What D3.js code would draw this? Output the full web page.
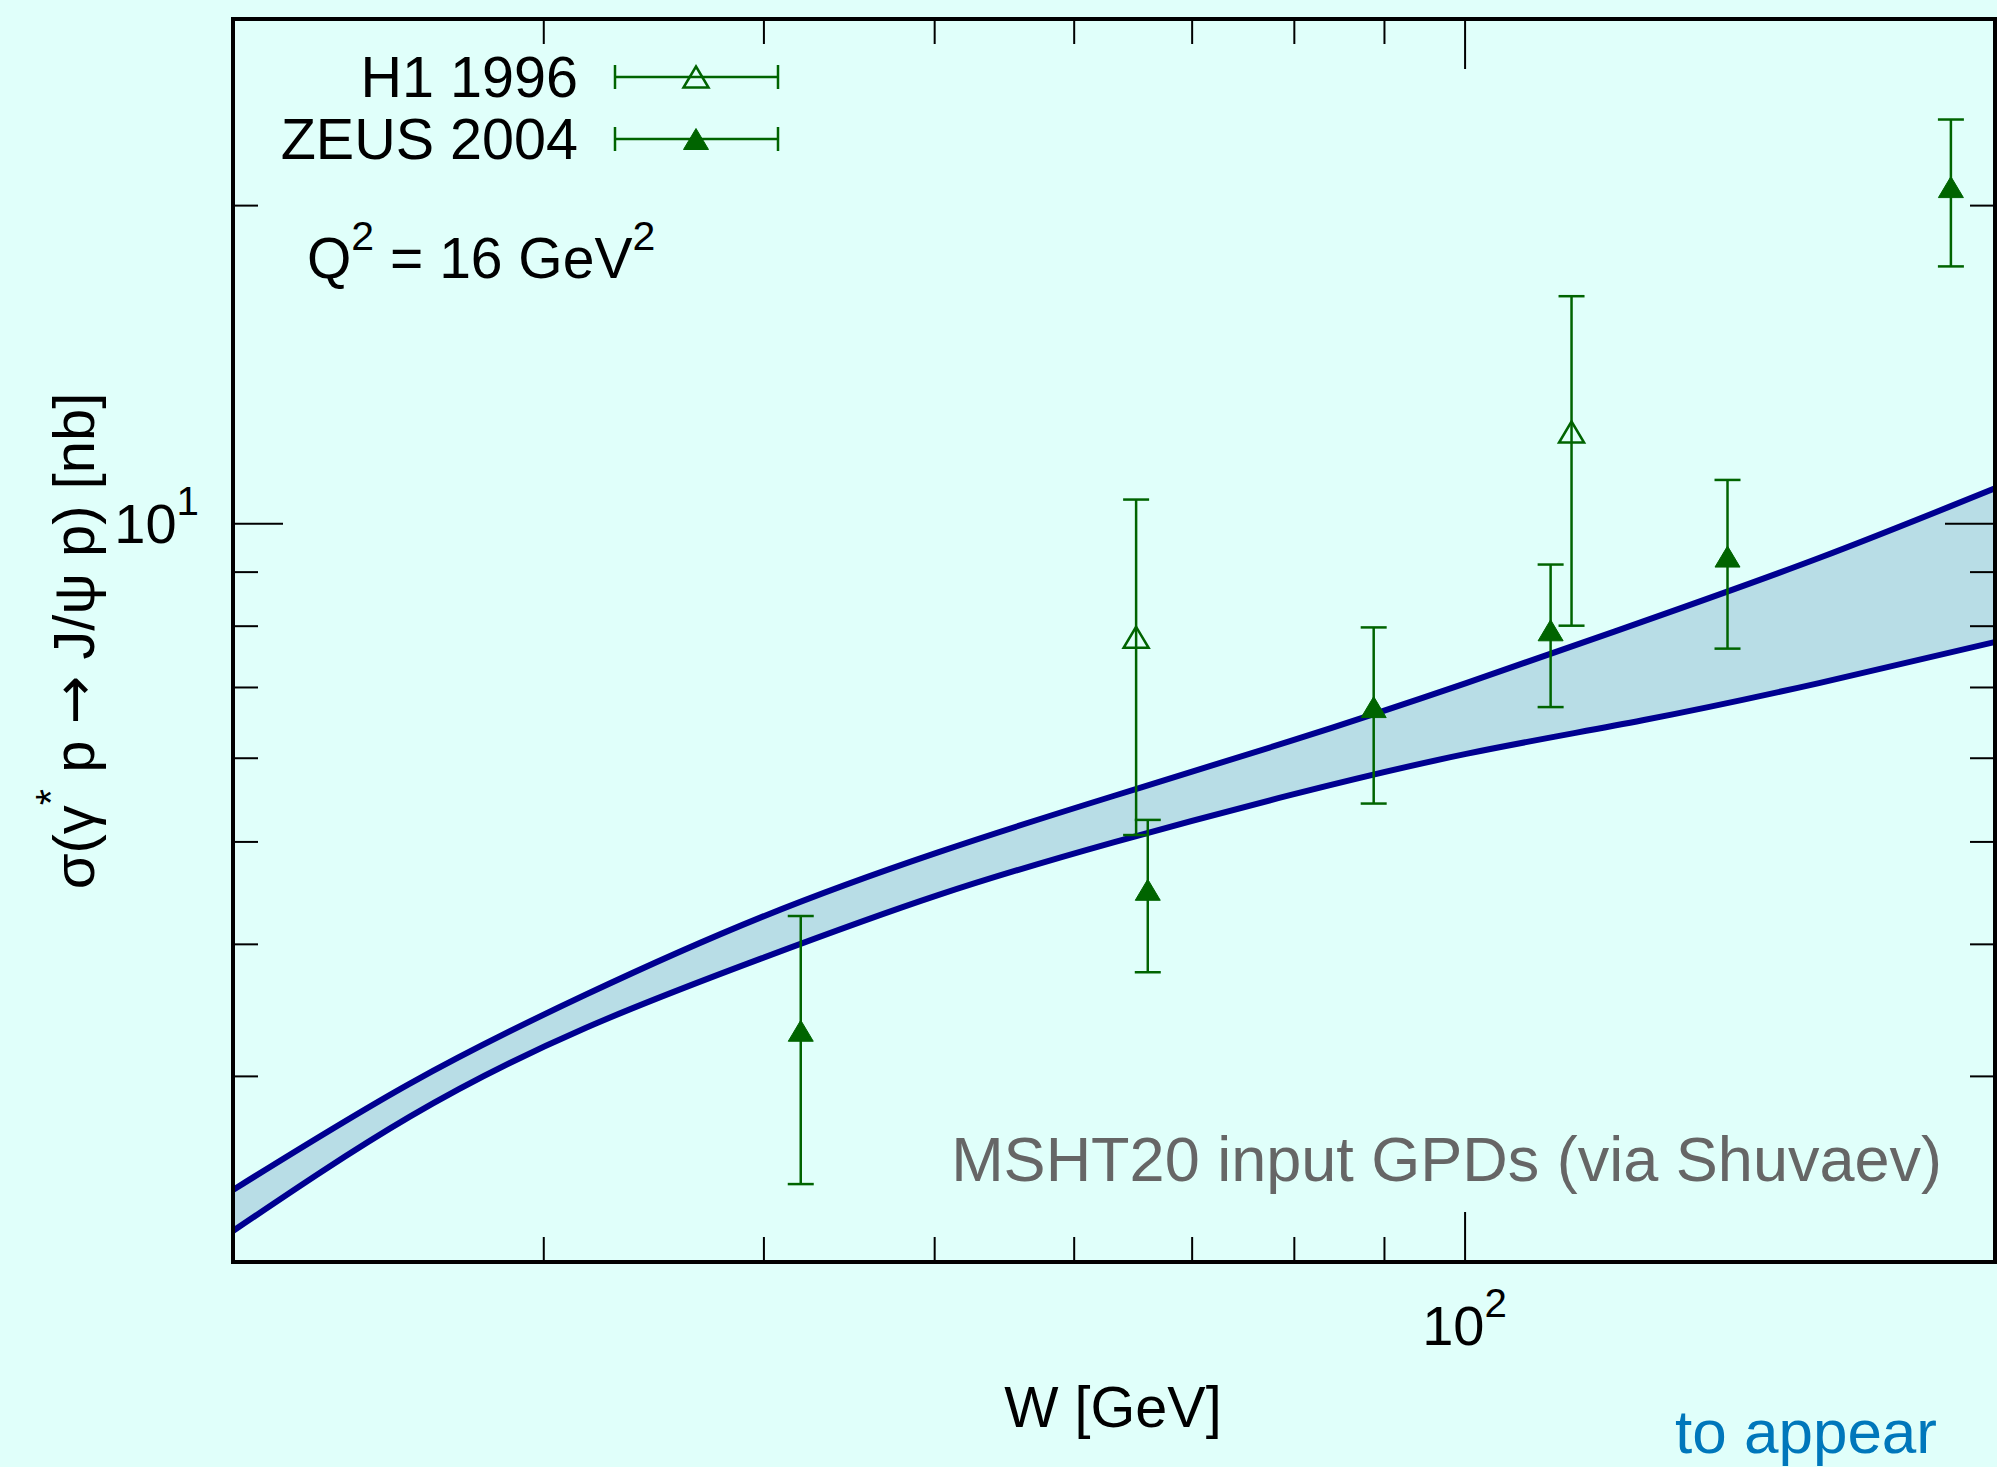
<!DOCTYPE html>
<html>
<head>
<meta charset="utf-8">
<script src="https://cdn.jsdelivr.net/npm/d3@7"></script>
<style>
  html, body { margin: 0; padding: 0; background: #e0fffa; }
  svg { display: block; }
</style>
</head>
<body>
<svg id="chart"></svg>
<script>
// band of the MSHT20 prediction at even steps in log W
var bandW = [20, 25.2, 31.7, 39.9, 50.2, 63.2, 79.6, 100.2, 126.2, 158.9, 200];
var bandUpper = [2.34, 2.95, 3.58, 4.24, 4.88, 5.52, 6.22, 7.06, 8.07, 9.27, 10.79];
var bandLower = [2.14, 2.745, 3.33, 3.875, 4.445, 4.99, 5.53, 6.05, 6.51, 7.06, 7.72];

// data points
var zeusW = [42.0, 66.1, 88.8, 111.9, 141, 188.8];
var zeusSigma = [3.31, 4.5, 6.7, 7.92, 9.3, 20.8];
var zeusErr = [0.94, 0.74, 1.27, 1.22, 1.69, 3.3];

var h1W = [65.1, 115];
var h1Sigma = [7.8, 12.2];
var h1Err = [2.73, 4.2];

// axis ticks
var xMajorTicks = [100];
var xMinorTicks = [30, 40, 50, 60, 70, 80, 90];
var yMajorTicks = [10];
var yMinorTicks = [3, 4, 5, 6, 7, 8, 9, 20];

var dimensions = {
  width: 1997,
  height: 1467,
  margin: { top: 19, right: 2, bottom: 205, left: 233 },
};
dimensions.boundedWidth =
  dimensions.width - dimensions.margin.left - dimensions.margin.right;
dimensions.boundedHeight =
  dimensions.height - dimensions.margin.top - dimensions.margin.bottom;

var green = "#006400";
var font = "'Liberation Sans', Arial, Helvetica, sans-serif";

var svg = d3
  .select("#chart")
  .attr("width", dimensions.width)
  .attr("height", dimensions.height)
  .style("font-family", font);

svg
  .append("rect")
  .attr("width", dimensions.width)
  .attr("height", dimensions.height)
  .attr("fill", "#e0fffa");

var xScale = d3
  .scaleLog()
  .domain([20, 200])
  .range([0, dimensions.boundedWidth]);

var yScale = d3
  .scaleLog()
  .domain([2, 30])
  .range([dimensions.boundedHeight, 0]);

var bounds = svg
  .append("g")
  .attr(
    "transform",
    "translate(" + dimensions.margin.left + "," + dimensions.margin.top + ")"
  );

bounds
  .append("clipPath")
  .attr("id", "clip")
  .append("rect")
  .attr("width", dimensions.boundedWidth)
  .attr("height", dimensions.boundedHeight);

var plot = bounds.append("g").attr("clip-path", "url(#clip)");

// band
var band = bandW.map(function (w, i) {
  return { w: w, lo: bandLower[i], hi: bandUpper[i] };
});

var area = d3
  .area()
  .x(function (d) {
    return xScale(d.w);
  })
  .y0(function (d) {
    return yScale(d.lo);
  })
  .y1(function (d) {
    return yScale(d.hi);
  })
  .curve(d3.curveNatural);

plot.append("path").datum(band).attr("d", area).attr("fill", "#b8dde6");

["hi", "lo"].forEach(function (key) {
  var line = d3
    .line()
    .x(function (d) {
      return xScale(d.w);
    })
    .y(function (d) {
      return yScale(d[key]);
    })
    .curve(d3.curveNatural);
  plot
    .append("path")
    .datum(band)
    .attr("d", line)
    .attr("fill", "none")
    .attr("stroke", "#000090")
    .attr("stroke-width", 6);
});

// triangle marker, centred on the point
var triW = 25,
  triH = 21;
function triangle(cx, cy) {
  return (
    "M" + cx + "," + (cy - triH / 2) +
    "L" + (cx + triW / 2) + "," + (cy + triH / 2) +
    "L" + (cx - triW / 2) + "," + (cy + triH / 2) + "Z"
  );
}

function drawPoints(ws, vals, errs, filled) {
  var pts = ws.map(function (w, i) {
    return { w: w, v: vals[i], e: errs[i] };
  });
  var g = plot.append("g");
  var cap = 13;
  pts.forEach(function (d) {
    var x = xScale(d.w);
    var y0 = yScale(d.v - d.e);
    var y1 = yScale(d.v + d.e);
    g.append("line")
      .attr("x1", x).attr("x2", x)
      .attr("y1", y0).attr("y2", y1)
      .attr("stroke", green).attr("stroke-width", 2.5);
    [y0, y1].forEach(function (yy) {
      g.append("line")
        .attr("x1", x - cap).attr("x2", x + cap)
        .attr("y1", yy).attr("y2", yy)
        .attr("stroke", green).attr("stroke-width", 2.5);
    });
    g.append("path")
      .attr("d", triangle(x, yScale(d.v)))
      .attr("fill", filled ? green : "none")
      .attr("stroke", green)
      .attr("stroke-width", filled ? 1 : 2.5);
  });
}

drawPoints(h1W, h1Sigma, h1Err, false);
drawPoints(zeusW, zeusSigma, zeusErr, true);

// ticks on all four sides, pointing in
function addTicks(axisFn, scale, values, size, transform) {
  bounds
    .append("g")
    .attr("transform", transform)
    .call(
      axisFn(scale)
        .tickValues(values)
        .tickSizeInner(-size)
        .tickSizeOuter(0)
        .tickFormat("")
    )
    .call(function (g) {
      g.select(".domain").remove();
      g.selectAll(".tick line").attr("stroke", "#000").attr("stroke-width", 2);
    });
}

var bottomT = "translate(0," + dimensions.boundedHeight + ")";
var rightT = "translate(" + dimensions.boundedWidth + ",0)";
addTicks(d3.axisBottom, xScale, xMinorTicks, 25, bottomT);
addTicks(d3.axisBottom, xScale, xMajorTicks, 50, bottomT);
addTicks(d3.axisTop, xScale, xMinorTicks, 25, "translate(0,0)");
addTicks(d3.axisTop, xScale, xMajorTicks, 50, "translate(0,0)");
addTicks(d3.axisLeft, yScale, yMinorTicks, 25, "translate(0,0)");
addTicks(d3.axisLeft, yScale, yMajorTicks, 50, "translate(0,0)");
addTicks(d3.axisRight, yScale, yMinorTicks, 25, rightT);
addTicks(d3.axisRight, yScale, yMajorTicks, 50, rightT);

// frame
bounds
  .append("rect")
  .attr("width", dimensions.boundedWidth)
  .attr("height", dimensions.boundedHeight)
  .attr("fill", "none")
  .attr("stroke", "#000")
  .attr("stroke-width", 4);

// text with superscripts; the shift back is put on the next piece
function supText(parent, parts, size) {
  var raise = size * 0.5;
  var back = 0;
  parts.forEach(function (p) {
    var t = parent.append("tspan").text(p.t);
    if (p.font) t.style("font-family", p.font);
    if (p.sup) {
      t.attr("font-size", size * 0.72).attr("dy", -raise + back);
      back = raise;
    } else {
      if (back) t.attr("dy", back);
      back = 0;
    }
  });
}

// tick labels
var yLab = svg
  .append("text")
  .attr("x", 199)
  .attr("y", dimensions.margin.top + yScale(10) + 20)
  .attr("text-anchor", "end")
  .attr("font-size", 56);
supText(yLab, [{ t: "10" }, { t: "1", sup: true }], 56);

var xLab = svg
  .append("text")
  .attr("x", dimensions.margin.left + xScale(100))
  .attr("y", 1345)
  .attr("text-anchor", "middle")
  .attr("font-size", 56);
supText(xLab, [{ t: "10" }, { t: "2", sup: true }], 56);

// axis titles
svg
  .append("text")
  .attr("x", 1113)
  .attr("y", 1427)
  .attr("text-anchor", "middle")
  .attr("font-size", 57.5)
  .text("W [GeV]");

var yTitle = svg
  .append("text")
  .attr("transform", "translate(94,641) rotate(-90)")
  .attr("text-anchor", "middle")
  .attr("font-size", 58);
supText(
  yTitle,
  [
    { t: "σ(γ" },
    { t: "*", sup: true },
    { t: " p " },
    { t: "→", font: "'DejaVu Sans', sans-serif" },
    { t: " J/ψ p) [nb]" },
  ],
  58
);

// legend
var legendRows = [
  { label: "H1 1996", y: 77, filled: false },
  { label: "ZEUS 2004", y: 139, filled: true },
];
legendRows.forEach(function (r) {
  svg
    .append("text")
    .attr("x", 578)
    .attr("y", r.y + 20)
    .attr("text-anchor", "end")
    .attr("font-size", 57.5)
    .text(r.label);
  svg
    .append("line")
    .attr("x1", 615).attr("x2", 778)
    .attr("y1", r.y).attr("y2", r.y)
    .attr("stroke", green).attr("stroke-width", 2.5);
  [615, 778].forEach(function (xx) {
    svg
      .append("line")
      .attr("x1", xx).attr("x2", xx)
      .attr("y1", r.y - 12).attr("y2", r.y + 12)
      .attr("stroke", green).attr("stroke-width", 2.5);
  });
  svg
    .append("path")
    .attr("d", triangle(696, r.y))
    .attr("fill", r.filled ? green : "none")
    .attr("stroke", green)
    .attr("stroke-width", r.filled ? 1 : 2.5);
});

var q2 = svg
  .append("text")
  .attr("x", 307)
  .attr("y", 278)
  .attr("font-size", 57);
supText(
  q2,
  [{ t: "Q" }, { t: "2", sup: true }, { t: " = 16 GeV" }, { t: "2", sup: true }],
  57
);

svg
  .append("text")
  .attr("x", 1942)
  .attr("y", 1181)
  .attr("text-anchor", "end")
  .attr("font-size", 63)
  .attr("fill", "#666666")
  .text("MSHT20 input GPDs (via Shuvaev)");

svg
  .append("text")
  .attr("x", 1937)
  .attr("y", 1453)
  .attr("text-anchor", "end")
  .attr("font-size", 62)
  .attr("fill", "#0077bb")
  .text("to appear");
</script>
</body>
</html>
